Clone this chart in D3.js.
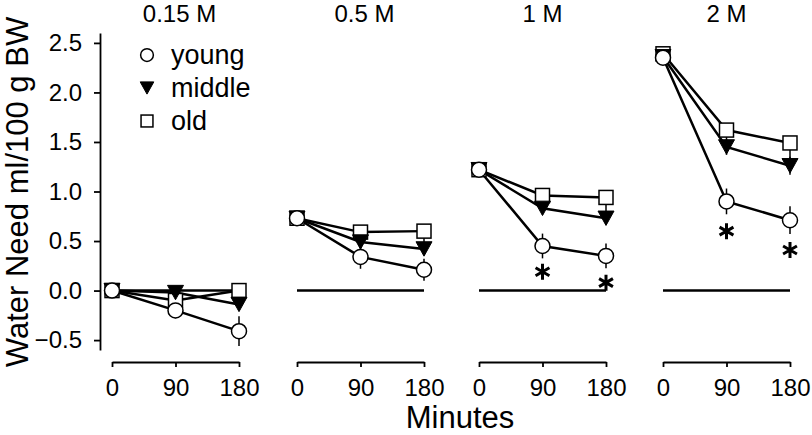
<!DOCTYPE html>
<html>
<head>
<meta charset="utf-8">
<script src="https://cdn.jsdelivr.net/npm/d3@7"></script>
<style>
  html, body { margin: 0; padding: 0; background: #fff; }
  svg { display: block; }
  text { font-family: "Liberation Sans", Arial, sans-serif; fill: #000; }
</style>
</head>
<body>
<svg id="chart" width="812" height="435"></svg>
<script>
// ---- data ----
const panels = ["0.15 M", "0.5 M", "1 M", "2 M"];
const minutes = [0, 90, 180];
const groups = ["young", "middle", "old"];

const youngMean = [[0.00, -0.20, -0.41], [0.73, 0.34, 0.21], [1.22, 0.45, 0.35], [2.35, 0.90, 0.71]];
const youngErr  = [[0.03, 0.08, 0.15], [0.05, 0.12, 0.11], [0.05, 0.125, 0.125], [0.05, 0.13, 0.14]];
const middleMean = [[0.00, -0.02, -0.14], [0.73, 0.49, 0.42], [1.22, 0.83, 0.73], [2.36, 1.45, 1.26]];
const middleErr  = [[0.03, 0.03, 0.05], [0.05, 0.06, 0.06], [0.04, 0.06, 0.06], [0.05, 0.08, 0.09]];
const oldMean = [[0.00, -0.10, 0.00], [0.73, 0.59, 0.60], [1.22, 0.96, 0.94], [2.39, 1.62, 1.49]];
const oldErr  = [[0.03, 0.05, 0.04], [0.05, 0.09, 0.125], [0.04, 0.11, 0.14], [0.05, 0.12, 0.17]];

// significance asterisks: [panel index, minute, y value]
const stars = [[2, 90, 0.19], [2, 180, 0.08], [3, 90, 0.60], [3, 180, 0.41]];

const yTicks = [-0.5, 0.0, 0.5, 1.0, 1.5, 2.0, 2.5];
const xTicks = [0, 90, 180];

// ---- layout ----
const svg = d3.select("#chart");
const y = d3.scaleLinear().domain([-0.6, 2.6]).range([350, 33]);
const panelLeft = [112, 297, 479, 663];
const panelW = 127;
const xScales = panelLeft.map(l => d3.scaleLinear().domain([0, 180]).range([l, l + panelW]));
const axisY = 362;

const series = [
  { name: "old", mean: oldMean, err: oldErr, shape: "square", up: false },
  { name: "middle", mean: middleMean, err: middleErr, shape: "triangle", up: true },
  { name: "young", mean: youngMean, err: youngErr, shape: "circle", up: true }
];

function drawMarker(g, shape, cx, cy, s) {
  if (shape === "circle") {
    g.append("circle").attr("cx", cx).attr("cy", cy).attr("r", 7.5 * s)
      .attr("fill", "#fff").attr("stroke", "#000").attr("stroke-width", 1.5);
  } else if (shape === "square") {
    const h = 7 * s;
    g.append("rect").attr("x", cx - h).attr("y", cy - h).attr("width", 2 * h).attr("height", 2 * h)
      .attr("fill", "#fff").attr("stroke", "#000").attr("stroke-width", 1.5);
  } else {
    const w = 8 * s, h = 7.2 * s;
    g.append("path").attr("d", `M${cx - w},${cy - h}L${cx + w},${cy - h}L${cx},${cy + h}Z`)
      .attr("fill", "#000").attr("stroke", "#000").attr("stroke-width", 1);
  }
}

// y axis
const yAxis = svg.append("g").attr("transform", "translate(100,0)")
  .call(d3.axisLeft(y).tickValues(yTicks).tickFormat(d3.format(".1f")).tickSize(6).tickSizeOuter(0).tickPadding(12));
yAxis.selectAll("path,line").attr("stroke", "#000").attr("stroke-width", 1.8);
yAxis.selectAll("text").style("font-size", "24px").attr("fill", "#000")
  .style("font-family", '"Liberation Sans", Arial, sans-serif');

svg.append("text")
  .attr("transform", "translate(28,192) rotate(-90)")
  .attr("text-anchor", "middle")
  .style("font-size", "31px")
  .text("Water Need ml/100 g BW");

svg.append("text")
  .attr("x", 460).attr("y", 428)
  .attr("text-anchor", "middle")
  .style("font-size", "31px")
  .text("Minutes");

panels.forEach((title, p) => {
  const x = xScales[p];
  const g = svg.append("g");

  // x axis
  const xa = g.append("g").attr("transform", `translate(0,${axisY})`)
    .call(d3.axisBottom(x).tickValues(xTicks).tickSize(5).tickSizeOuter(0).tickPadding(12));
  xa.selectAll("path,line").attr("stroke", "#000").attr("stroke-width", 1.8);
  xa.selectAll("text").style("font-size", "24px").attr("fill", "#000")
    .style("font-family", '"Liberation Sans", Arial, sans-serif');

  // title
  g.append("text").attr("x", (x.range()[0] + x.range()[1]) / 2 + (p < 2 ? 4 : 0)).attr("y", 22)
    .attr("text-anchor", "middle").style("font-size", "24px").text(title);

  // zero reference line
  g.append("line").attr("x1", x(0)).attr("x2", x(180)).attr("y1", y(0)).attr("y2", y(0))
    .attr("stroke", "#000").attr("stroke-width", 2.5);

  // lines
  const line = d3.line().x((d, i) => x(minutes[i])).y(d => y(d));
  series.forEach(s => {
    g.append("path").attr("d", line(s.mean[p])).attr("fill", "none")
      .attr("stroke", "#000").attr("stroke-width", 2.5);
  });
  // error bars
  series.forEach(s => {
    s.mean[p].forEach((m, i) => {
      g.append("line").attr("x1", x(minutes[i])).attr("x2", x(minutes[i]))
        .attr("y1", y(m - s.err[p][i])).attr("y2", y(s.up ? m + s.err[p][i] : m))
        .attr("stroke", "#000").attr("stroke-width", 1.5);
    });
  });
  // markers
  series.forEach(s => {
    s.mean[p].forEach((m, i) => drawMarker(g, s.shape, x(minutes[i]), y(m), 1));
  });
});

// asterisks
stars.forEach(([p, t, v]) => {
  const cx = xScales[p](t), cy = y(v), r = 8;
  const d = [90, 30, -30].map(a => {
    const rad = a * Math.PI / 180, dx = r * Math.cos(rad), dy = r * Math.sin(rad);
    return `M${cx - dx},${cy - dy}L${cx + dx},${cy + dy}`;
  }).join("");
  svg.append("path").attr("d", d).attr("stroke", "#000").attr("stroke-width", 3).attr("fill", "none");
});

// legend
const legend = svg.append("g");
const legendShapes = ["circle", "triangle", "square"];
groups.forEach((name, i) => {
  const cy = 55 + i * 33;
  drawMarker(legend, legendShapes[i], 147, cy, 0.85);
  legend.append("text").attr("x", 171).attr("y", cy + 8.5).style("font-size", "27px").text(name);
});
</script>
</body>
</html>
